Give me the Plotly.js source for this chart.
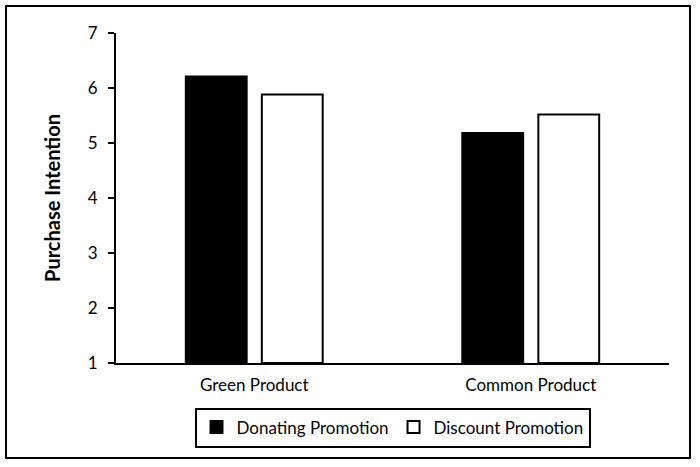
<!DOCTYPE html>
<html>
<head>
<meta charset="utf-8">
<script src="https://cdn.plot.ly/plotly-3.0.1.min.js"></script>
<style>
  body { margin: 0; background: #fff; }
  #chart { width: 700px; height: 467px; }
  #frame { position: absolute; left: 5px; top: 5px; width: 682px; height: 450px; border: 2px solid #000; pointer-events: none; }
</style>
</head>
<body>
<div id="chart"></div>
<div id="frame"></div>
<script>
const categories = ['Green Product', 'Common Product']
const donating = [6.21, 5.18]
const discount = [5.88, 5.52]
const baseline = 1

const fontFamily = 'Lato, "Open Sans", sans-serif'

// bars start at the axis floor of 1, so plot the height above it
const data = [
	{
		x: categories,
		y: donating.map(v => v - baseline),
		base: baseline,
		type: 'bar',
		name: 'Donating Promotion',
		marker: {color: '#000000', line: {color: '#000000', width: 2}}
	},
	{
		x: categories,
		y: discount.map(v => v - baseline),
		base: baseline,
		type: 'bar',
		name: 'Discount Promotion',
		marker: {color: '#ffffff', line: {color: '#000000', width: 2}}
	}
]

const layout = {
	width: 700,
	height: 467,
	margin: {l: 116, r: 31, t: 33, b: 104},
	paper_bgcolor: '#ffffff',
	plot_bgcolor: '#ffffff',
	font: {family: fontFamily, size: 17, color: '#000'},
	barmode: 'group',
	bargap: 0.45,
	bargroupgap: 0.2,
	xaxis: {
		showline: true,
		linecolor: '#000',
		linewidth: 2,
		ticks: '',
		showgrid: false,
		ticklabelstandoff: 6,
		tickfont: {size: 17}
	},
	yaxis: {
		range: [1, 7],
		dtick: 1,
		showline: true,
		linecolor: '#000',
		linewidth: 2,
		ticks: 'outside',
		ticklen: 6,
		tickwidth: 2,
		tickcolor: '#000',
		showgrid: false,
		zeroline: false,
		ticklabelstandoff: 7,
		tickfont: {size: 17},
		title: {text: '<b>Purchase Intention</b>', font: {size: 20}, standoff: 22}
	},
	showlegend: true,
	legend: {
		orientation: 'h',
		x: 0.5,
		xanchor: 'center',
		y: -0.135,
		yanchor: 'top',
		bordercolor: '#000',
		borderwidth: 2,
		font: {size: 17},
		itemwidth: 30
	}
}

Plotly.newPlot('chart', data, layout, {displayModeBar: false})
</script>
</body>
</html>
